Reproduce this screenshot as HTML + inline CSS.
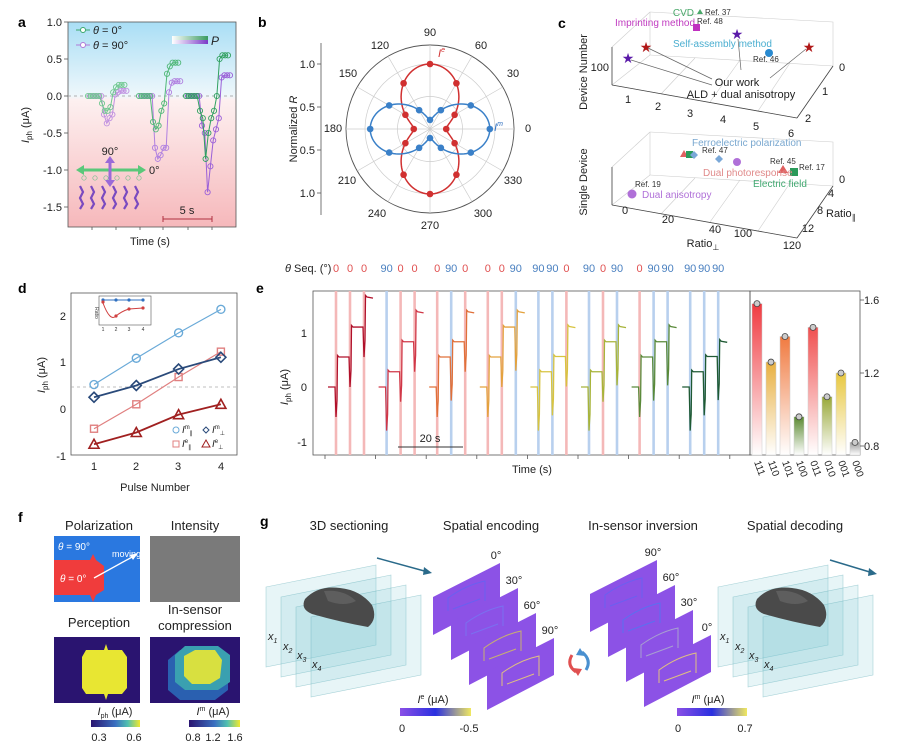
<!DOCTYPE html>
<html><head><meta charset="utf-8">
<style>
html,body{margin:0;padding:0;background:#fff;}
svg{display:block;font-family:"Liberation Sans",Arial,sans-serif;}
.t{font-size:11px;fill:#222}
.s{font-size:8px;fill:#333}
.L{font-size:14px;font-weight:bold;fill:#000}
.h{font-size:13px;fill:#222}
</style></head><body>
<svg id="S" width="899" height="756" viewBox="0 0 899 756" xmlns="http://www.w3.org/2000/svg">
<defs>
<linearGradient id="ga" x1="0" y1="0" x2="0" y2="1">
<stop offset="0" stop-color="#a9def5"/><stop offset="0.36" stop-color="#eef7fb"/><stop offset="0.38" stop-color="#fdf0f0"/><stop offset="1" stop-color="#f6b8bb"/>
</linearGradient>
<linearGradient id="gp" x1="0" y1="0" x2="1" y2="0"><stop offset="0" stop-color="#fff"/><stop offset="1" stop-color="#3a9a60"/></linearGradient>
<linearGradient id="gp2" x1="0" y1="0" x2="1" y2="0"><stop offset="0" stop-color="#fff"/><stop offset="1" stop-color="#7a3ac8"/></linearGradient>
<linearGradient id="cb1" x1="0" y1="0" x2="1" y2="0"><stop offset="0" stop-color="#2a1470"/><stop offset="0.5" stop-color="#3a70c0"/><stop offset="0.75" stop-color="#50c0b0"/><stop offset="1" stop-color="#f0e830"/></linearGradient>
<linearGradient id="cb2" x1="0" y1="0" x2="1" y2="0"><stop offset="0" stop-color="#8a4fe6"/><stop offset="0.5" stop-color="#2a30e0"/><stop offset="1" stop-color="#f0e860"/></linearGradient>
</defs>

<!-- ============ panel a ============ -->
<text class="L" x="18" y="27">a</text>
<rect x="68" y="22" width="168" height="205" fill="url(#ga)" stroke="#555" stroke-width="0.8"/>
<line x1="68" y1="96" x2="236" y2="96" stroke="#999" stroke-dasharray="3,3" stroke-width="0.8"/>
<g class="t" text-anchor="end">
<text x="62" y="26">1.0</text><text x="62" y="63">0.5</text><text x="62" y="100">0.0</text>
<text x="62" y="137">-0.5</text><text x="62" y="174">-1.0</text><text x="62" y="211">-1.5</text>
</g>
<g stroke="#555" stroke-width="0.8">
<line x1="64" y1="22" x2="68" y2="22"/><line x1="64" y1="59" x2="68" y2="59"/><line x1="64" y1="96" x2="68" y2="96"/><line x1="64" y1="133" x2="68" y2="133"/><line x1="64" y1="170" x2="68" y2="170"/><line x1="64" y1="207" x2="68" y2="207"/>
<line x1="92" y1="227" x2="92" y2="230"/><line x1="116" y1="227" x2="116" y2="230"/><line x1="140" y1="227" x2="140" y2="230"/><line x1="163" y1="227" x2="163" y2="230"/><line x1="188" y1="227" x2="188" y2="230"/><line x1="212" y1="227" x2="212" y2="230"/>
</g>
<text class="t" x="150" y="245" text-anchor="middle" font-size="12">Time (s)</text>
<text class="t" transform="translate(29,125) rotate(-90)" text-anchor="middle" font-size="12"><tspan font-style="italic">I</tspan><tspan font-size="8" dy="3">ph</tspan><tspan dy="-3"> (μA)</tspan></text>
<g id="aData"></g>
<line x1="76" y1="30" x2="90" y2="30" stroke="#3aa86a"/><circle cx="83" cy="30" r="2.5" fill="#fff" stroke="#3aa86a"/>
<text class="t" x="93" y="34" font-size="10"><tspan font-style="italic">θ</tspan> = 0°</text>
<line x1="76" y1="45" x2="90" y2="45" stroke="#b07ad8"/><circle cx="83" cy="45" r="2.5" fill="#fff" stroke="#b07ad8"/>
<text class="t" x="93" y="49" font-size="10"><tspan font-style="italic">θ</tspan> = 90°</text>
<rect x="172" y="36" width="36" height="4" fill="url(#gp)"/><rect x="172" y="40" width="36" height="4" fill="url(#gp2)"/>
<text x="211" y="45" font-size="12" font-style="italic" fill="#222">P</text>
<line x1="80" y1="170" x2="142" y2="170" stroke="#5ac87a" stroke-width="3"/>
<polygon points="76,170 84,165 84,175" fill="#5ac87a"/><polygon points="146,170 138,165 138,175" fill="#5ac87a"/>
<line x1="110" y1="160" x2="110" y2="183" stroke="#9a6ad8" stroke-width="3"/>
<polygon points="110,156 105,163 115,163" fill="#9a6ad8"/><polygon points="110,187 105,180 115,180" fill="#9a6ad8"/>
<text class="t" x="110" y="155" text-anchor="middle" font-size="10">90°</text>
<text class="t" x="149" y="174" font-size="10">0°</text>
<g stroke="#7a4ac0" stroke-width="2.2" id="mol"></g>
<line x1="163" y1="219" x2="212" y2="219" stroke="#b03040"/>
<line x1="163" y1="216" x2="163" y2="222" stroke="#b03040"/><line x1="212" y1="216" x2="212" y2="222" stroke="#b03040"/>
<text class="t" x="187" y="214" text-anchor="middle" font-size="10">5 s</text>

<!-- ============ panel b ============ -->
<text class="L" x="258" y="27">b</text>
<line x1="321" y1="43" x2="321" y2="215" stroke="#555" stroke-width="0.8"/>
<g stroke="#555" stroke-width="0.8"><line x1="317" y1="64" x2="321" y2="64"/><line x1="317" y1="107" x2="321" y2="107"/><line x1="317" y1="150" x2="321" y2="150"/><line x1="317" y1="193" x2="321" y2="193"/></g>
<g class="t" text-anchor="end"><text x="315" y="68">1.0</text><text x="315" y="111">0.5</text><text x="315" y="154">0.5</text><text x="315" y="197">1.0</text></g>
<text class="t" transform="translate(297,129) rotate(-90)" text-anchor="middle" font-size="12">Normalized <tspan font-style="italic">R</tspan></text>
<g id="polar"></g>
<g class="t" text-anchor="middle" font-size="11">
<text x="430" y="36">90</text><text x="380" y="49">120</text><text x="348" y="77">150</text><text x="333" y="132">180</text>
<text x="347" y="184">210</text><text x="377" y="217">240</text><text x="430" y="229">270</text>
<text x="481" y="49">60</text><text x="513" y="77">30</text><text x="528" y="132">0</text>
<text x="513" y="184">330</text><text x="483" y="217">300</text>
</g>
<text x="438" y="57" font-size="11" font-style="italic" fill="#d03030">I<tspan font-size="7" dy="-5">e</tspan></text>
<text x="494" y="131" font-size="11" font-style="italic" fill="#3070c0">I<tspan font-size="7" dy="-5">m</tspan></text>

<!-- ============ panel c ============ -->
<text class="L" x="558" y="28">c</text>
<g stroke="#ccc" stroke-width="0.6" fill="none">
<polyline points="612,47 612,85 797,118 833,66 833,22 650,12"/>
<line x1="612" y1="47" x2="650" y2="12"/><line x1="650" y1="12" x2="650" y2="55"/><line x1="650" y1="55" x2="833" y2="66"/>
<line x1="612" y1="85" x2="650" y2="55"/>
<line x1="661" y1="94" x2="695" y2="58"/><line x1="710" y1="102" x2="740" y2="60"/><line x1="758" y1="111" x2="790" y2="63"/>
<polyline points="612,167 612,205 797,238 833,186 833,142 650,132"/>
<line x1="612" y1="167" x2="650" y2="132"/><line x1="650" y1="132" x2="650" y2="175"/><line x1="650" y1="175" x2="833" y2="186"/>
<line x1="612" y1="205" x2="650" y2="175"/>
<line x1="661" y1="214" x2="695" y2="178"/><line x1="710" y1="222" x2="740" y2="180"/><line x1="758" y1="231" x2="790" y2="183"/>
</g>
<g stroke="#444" stroke-width="0.8"><line x1="612" y1="85" x2="797" y2="118"/><line x1="797" y1="118" x2="833" y2="66"/><line x1="612" y1="205" x2="797" y2="238"/><line x1="797" y1="238" x2="833" y2="186"/><line x1="612" y1="47" x2="612" y2="85"/><line x1="612" y1="167" x2="612" y2="205"/></g>
<text class="t" transform="translate(587,72) rotate(-90)" text-anchor="middle" font-size="12">Device Number</text>
<text class="t" transform="translate(587,182) rotate(-90)" text-anchor="middle" font-size="12">Single Device</text>
<text class="t" x="609" y="71" text-anchor="end" font-size="10">100</text>
<text x="694" y="16" font-size="10" fill="#4aa86a" text-anchor="end">CVD</text><polygon points="697,14 700,9 703,14" fill="#4aa86a"/>
<text class="s" x="705" y="15">Ref. 37</text>
<text x="615" y="26" font-size="10" fill="#c03ac0">Imprinting method</text><text class="s" x="697" y="24">Ref. 48</text>
<rect x="693" y="24" width="7" height="7" fill="#c030c0"/>
<text x="673" y="47" font-size="10" fill="#4aaed0">Self-assembly method</text>
<circle cx="769" cy="53" r="4" fill="#2a8ad0"/><text class="s" x="753" y="62">Ref. 46</text>
<g font-size="14" text-anchor="middle"><text x="646" y="52" fill="#b01818">★</text><text x="628" y="63" fill="#5a1aa8">★</text><text x="737" y="39" fill="#5a1aa8">★</text><text x="809" y="52" fill="#b01818">★</text></g>
<g stroke="#666" stroke-width="0.7"><line x1="648" y1="48" x2="712" y2="79"/><line x1="631" y1="60" x2="712" y2="85"/><line x1="738" y1="39" x2="741" y2="70"/><line x1="806" y1="49" x2="770" y2="78"/></g>
<text class="t" x="737" y="86" text-anchor="middle" font-size="10">Our work</text>
<text class="t" x="741" y="98" text-anchor="middle" font-size="10">ALD + dual anisotropy</text>
<g class="t" font-size="10" text-anchor="middle"><text x="628" y="103">1</text><text x="658" y="110">2</text><text x="690" y="117">3</text><text x="723" y="123">4</text><text x="756" y="130">5</text><text x="791" y="137">6</text>
<text x="842" y="71">0</text><text x="825" y="95">1</text><text x="808" y="122">2</text></g>
<text x="692" y="146" font-size="10" fill="#7aa8d0">Ferroelectric polarization</text>
<polygon points="684,150 688,157 680,157" fill="#e06060"/><rect x="686" y="151" width="7" height="7" fill="#2a9a5a"/>
<polygon points="694,151 698,155 694,159 690,155" fill="#7aa8d8"/><text class="s" x="702" y="153">Ref. 47</text>
<polygon points="719,155 723,159 719,163 715,159" fill="#7aa8d8"/><circle cx="737" cy="162" r="4" fill="#b070d8"/>
<text class="s" x="770" y="164">Ref. 45</text><polygon points="783,165 788,173 778,173" fill="#e06060"/><rect x="790" y="168" width="8" height="8" fill="#2a9a5a"/><text class="s" x="799" y="170">Ref. 17</text>
<text x="703" y="176" font-size="10" fill="#e08a8a">Dual photoresponse</text>
<text x="753" y="187" font-size="10" fill="#40a870">Electric field</text>
<text class="s" x="635" y="187">Ref. 19</text><circle cx="632" cy="194" r="4.5" fill="#b070d8"/>
<text x="642" y="198" font-size="10" fill="#b070d8">Dual anisotropy</text>
<g class="t" font-size="10" text-anchor="middle"><text x="625" y="214">0</text><text x="668" y="223">20</text><text x="715" y="233">40</text><text x="743" y="237">100</text><text x="792" y="249">120</text>
<text x="842" y="183">0</text><text x="831" y="197">4</text><text x="820" y="214">8</text><text x="808" y="232">12</text></g>
<text class="t" x="703" y="247" font-size="12" text-anchor="middle">Ratio<tspan font-size="8" dy="3">⊥</tspan></text>
<text class="t" x="826" y="217" font-size="12">Ratio<tspan font-size="8" dy="3">∥</tspan></text>

<!-- ============ panel d ============ -->
<text class="L" x="18" y="293">d</text>
<rect x="71" y="293" width="166" height="162" fill="none" stroke="#555" stroke-width="0.8"/>
<line x1="71" y1="387" x2="237" y2="387" stroke="#aaa" stroke-dasharray="3,3" stroke-width="0.8"/>
<g class="t" text-anchor="end"><text x="66" y="320">2</text><text x="66" y="366">1</text><text x="66" y="413">0</text><text x="66" y="460">-1</text></g>
<g class="t" text-anchor="middle"><text x="94" y="470">1</text><text x="136" y="470">2</text><text x="178" y="470">3</text><text x="221" y="470">4</text></g>
<text class="t" x="155" y="491" text-anchor="middle" font-size="12">Pulse Number</text>
<text class="t" transform="translate(45,375) rotate(-90)" text-anchor="middle" font-size="12"><tspan font-style="italic">I</tspan><tspan font-size="8" dy="3">ph</tspan><tspan dy="-3"> (μA)</tspan></text>
<g id="dData"></g>
<rect x="99" y="296" width="52" height="29" fill="#fff" stroke="#555" stroke-width="0.6"/>
<polyline points="103,300 116,300 129,300 143,300" fill="none" stroke="#3070c0"/>
<g fill="#3070c0"><circle cx="103" cy="300" r="1.6"/><circle cx="116" cy="300" r="1.6"/><circle cx="129" cy="300" r="1.6"/><circle cx="143" cy="300" r="1.6"/></g>
<path d="M103,303 Q110,322 116,316 Q122,311 129,309 L143,308" fill="none" stroke="#d04040"/>
<g fill="#d04040"><circle cx="103" cy="302" r="1.6"/><circle cx="116" cy="316" r="1.6"/><circle cx="129" cy="309" r="1.6"/><circle cx="143" cy="308" r="1.6"/></g>
<text x="95" y="313" font-size="5" transform="rotate(90,95,313)" text-anchor="middle" fill="#333">Ratio</text>
<g font-size="5" fill="#333" text-anchor="middle"><text x="103" y="331">1</text><text x="116" y="331">2</text><text x="129" y="331">3</text><text x="143" y="331">4</text></g>
<g font-size="10" fill="#222">
<circle cx="176" cy="430" r="3" fill="none" stroke="#6aaad8"/><text x="182" y="433"><tspan font-style="italic">I</tspan><tspan font-size="6" dy="-4">m</tspan><tspan font-size="6" dy="6">∥</tspan></text>
<polygon points="206,427 209,430 206,433 203,430" fill="none" stroke="#2a4a7a"/><text x="212" y="433"><tspan font-style="italic">I</tspan><tspan font-size="6" dy="-4">m</tspan><tspan font-size="6" dy="6">⊥</tspan></text>
<rect x="173" y="441" width="6" height="6" fill="none" stroke="#e08080"/><text x="182" y="447"><tspan font-style="italic">I</tspan><tspan font-size="6" dy="-4">e</tspan><tspan font-size="6" dy="6">∥</tspan></text>
<polygon points="206,440 210,447 202,447" fill="none" stroke="#a02020"/><text x="212" y="447"><tspan font-style="italic">I</tspan><tspan font-size="6" dy="-4">e</tspan><tspan font-size="6" dy="6">⊥</tspan></text>
</g>

<!-- ============ panel e ============ -->
<text class="L" x="256" y="293">e</text>
<text class="t" x="285" y="272" font-size="11"><tspan font-style="italic">θ</tspan> Seq. (°)</text>
<rect x="313" y="291" width="437" height="164" fill="none" stroke="#555" stroke-width="0.8"/>
<rect x="750" y="291" width="110" height="164" fill="none" stroke="#555" stroke-width="0.8"/>
<g id="eData"></g>
<g class="t" text-anchor="end"><text x="307" y="337">1</text><text x="307" y="391">0</text><text x="307" y="446">-1</text></g>
<g class="t"><text x="864" y="304">1.6</text><text x="864" y="377">1.2</text><text x="864" y="450">0.8</text></g>
<g stroke="#555" stroke-width="0.8"><line x1="860" y1="300" x2="864" y2="300"/><line x1="860" y1="373" x2="864" y2="373"/><line x1="860" y1="446" x2="864" y2="446"/></g>
<text class="t" transform="translate(288,387) rotate(-90)" text-anchor="middle" font-size="12"><tspan font-style="italic">I</tspan><tspan font-size="8" dy="3">ph</tspan><tspan dy="-3"> (μA)</tspan></text>
<line x1="398" y1="447" x2="463" y2="447" stroke="#333"/>
<text class="t" x="430" y="442" text-anchor="middle" font-size="10">20 s</text>
<text class="t" x="532" y="473" text-anchor="middle" font-size="12">Time (s)</text>

<!-- ============ panel f ============ -->
<text class="L" x="18" y="522">f</text>
<g class="h" text-anchor="middle"><text x="99" y="530">Polarization</text><text x="195" y="530">Intensity</text><text x="99" y="627">Perception</text><text x="195" y="614">In-sensor</text><text x="195" y="630">compression</text></g>
<rect x="54" y="536" width="86" height="66" fill="#2a78e0"/>
<path d="M54,560 L90,560 L93,554 L96,560 L104,566 L104,590 L96,595 L93,602 L90,595 L54,595 Z" fill="#f03c3c"/>
<text x="58" y="550" font-size="10" fill="#fff"><tspan font-style="italic">θ</tspan> = 90°</text>
<text x="112" y="557" font-size="9" fill="#fff">moving</text>
<text x="60" y="582" font-size="10" fill="#fff"><tspan font-style="italic">θ</tspan> = 0°</text>
<line x1="94" y1="578" x2="134" y2="556" stroke="#fff" stroke-width="1.3"/><polygon points="138,553 130,555 133,560" fill="#fff"/>
<rect x="150" y="536" width="90" height="66" fill="#7a7a7a"/>
<rect x="54" y="637" width="86" height="66" fill="#2a1470"/>
<path d="M86,650 L104,650 L106,644 L108,650 L122,650 L127,657 L127,688 L122,694 L108,694 L106,700 L104,694 L86,694 L82,688 L82,657 Z" fill="#e8e632"/>
<rect x="150" y="637" width="90" height="66" fill="#2a1470"/>
<path d="M168,660 L180,650 L215,650 L228,660 L228,690 L215,700 L180,700 L168,690 Z" fill="#2a60b0"/>
<path d="M175,655 L185,646 L218,646 L230,655 L230,682 L218,690 L185,690 L175,682 Z" fill="#3aa0b0"/>
<path d="M184,656 L195,650 L215,650 L222,660 L220,678 L210,684 L192,684 L184,676 Z" fill="#d8e040"/>
<rect x="91" y="720" width="49" height="7" fill="url(#cb1)"/><rect x="189" y="720" width="51" height="7" fill="url(#cb1)"/>
<text class="t" x="115" y="715" text-anchor="middle" font-size="10"><tspan font-style="italic">I</tspan><tspan font-size="7" dy="3">ph</tspan><tspan dy="-3"> (μA)</tspan></text>
<text class="t" x="213" y="715" text-anchor="middle" font-size="10"><tspan font-style="italic">I</tspan><tspan font-size="7" dy="-4">m</tspan><tspan dy="4"> (μA)</tspan></text>
<g class="t" font-size="9" text-anchor="middle"><text x="99" y="741">0.3</text><text x="134" y="741">0.6</text><text x="193" y="741">0.8</text><text x="213" y="741">1.2</text><text x="235" y="741">1.6</text></g>

<!-- ============ panel g ============ -->
<text class="L" x="260" y="526">g</text>
<g class="h" text-anchor="middle"><text x="349" y="530">3D sectioning</text><text x="491" y="530">Spatial encoding</text><text x="643" y="530">In-sensor inversion</text><text x="795" y="530">Spatial decoding</text></g>
<g id="gData"></g>
<g class="t" font-size="11" font-style="italic">
<text x="268" y="640">x<tspan font-size="7" dy="3">1</tspan></text><text x="283" y="650">x<tspan font-size="7" dy="3">2</tspan></text><text x="297" y="659">x<tspan font-size="7" dy="3">3</tspan></text><text x="312" y="668">x<tspan font-size="7" dy="3">4</tspan></text>
<text x="720" y="640">x<tspan font-size="7" dy="3">1</tspan></text><text x="735" y="650">x<tspan font-size="7" dy="3">2</tspan></text><text x="749" y="659">x<tspan font-size="7" dy="3">3</tspan></text><text x="764" y="668">x<tspan font-size="7" dy="3">4</tspan></text>
</g>
<rect x="400" y="708" width="71" height="8" fill="url(#cb2)"/><rect x="677" y="708" width="70" height="8" fill="url(#cb2)"/>
<text class="t" x="433" y="703" text-anchor="middle" font-size="10"><tspan font-style="italic">I</tspan><tspan font-size="7" dy="-4">e</tspan><tspan dy="4"> (μA)</tspan></text>
<text class="t" x="708" y="703" text-anchor="middle" font-size="10"><tspan font-style="italic">I</tspan><tspan font-size="7" dy="-4">m</tspan><tspan dy="4"> (μA)</tspan></text>
<g class="t" font-size="9" text-anchor="middle"><text x="402" y="732">0</text><text x="469" y="732">-0.5</text><text x="678" y="732">0</text><text x="745" y="732">0.7</text></g>
<path d="M572,655 Q566,665 576,672" fill="none" stroke="#e05050" stroke-width="3"/><polygon points="578,676 573,668 582,669" fill="#e05050"/>
<path d="M586,670 Q592,660 582,652" fill="none" stroke="#4a90d0" stroke-width="3"/><polygon points="580,648 585,656 576,655" fill="#4a90d0"/>
</svg>
<script>
const NS="http://www.w3.org/2000/svg";
function el(p,t,a){const e=document.createElementNS(NS,t);for(const k in a)e.setAttribute(k,a[k]);p.appendChild(e);return e;}
const A=document.getElementById('aData');
const ya=v=>96-74*v;
function ser(x0,arr,c){let pts=arr.map((v,i)=>[x0+i*2.8,ya(v)]);el(A,'polyline',{points:pts.map(p=>p.join(',')).join(' '),fill:'none',stroke:c,'stroke-width':1});pts.forEach(p=>el(A,'circle',{cx:p[0],cy:p[1],r:2.6,fill:'none',stroke:c,'stroke-width':0.9}));}
ser(90,[0,0,0,0,0,-0.25,-0.37,-0.3,-0.25,0.02,0.05,0.07,0.07,0.07],'#c090e0');
ser(88,[0,0,0,0,0,-0.1,-0.2,-0.2,-0.15,0.05,0.12,0.15,0.15,0.15],'#70c890');
ser(141,[0,0,0,0,0,-0.7,-0.85,-0.8,-0.7,-0.7,0.05,0.18,0.2,0.2,0.2],'#b080e0');
ser(139,[0,0,0,0,0,-0.35,-0.45,-0.4,-0.2,-0.1,0.3,0.4,0.45,0.45,0.45],'#50b878');
ser(188,[0,0,0,0,0,-0.4,-0.5,-1.3,-0.95,-0.6,-0.45,-0.3,0.25,0.28,0.28,0.28],'#9a60d8');
ser(186,[0,0,0,0,0,-0.2,-0.3,-0.85,-0.5,-0.3,-0.2,0.0,0.5,0.55,0.55,0.55],'#30a060');
const M=document.getElementById('mol');
for(let i=0;i<6;i++){const x=80+i*11;el(M,'polyline',{points:`${x},186 ${x+3},192 ${x},198 ${x+3},204 ${x},209`,fill:'none'});
el(A,'circle',{cx:x+4,cy:178,r:2.2,fill:'none',stroke:'#7ac090','stroke-width':0.7});}
const P=document.getElementById('polar');const cx=430,cy=129,s=65;
[0.5,1.0].forEach(r=>el(P,'circle',{cx,cy,r:r*s,fill:'none',stroke:'#ccc','stroke-width':0.7}));
el(P,'circle',{cx,cy,r:84,fill:'none',stroke:'#555','stroke-width':0.9});
for(let a=0;a<180;a+=30){const r=a*Math.PI/180;el(P,'line',{x1:cx-84*Math.cos(r),y1:cy+84*Math.sin(r),x2:cx+84*Math.cos(r),y2:cy-84*Math.sin(r),stroke:'#ccc','stroke-width':0.7});}
function curve(f,c,dots){let d='';for(let i=0;i<=360;i+=2){const t=i*Math.PI/180,r=f(t)*s;d+=(i?'L':'M')+(cx+r*Math.cos(t)).toFixed(1)+','+(cy-r*Math.sin(t)).toFixed(1);}
el(P,'path',{d:d+'Z',fill:'none',stroke:c,'stroke-width':1.5});
dots.forEach(i=>{const t=i*Math.PI/180,r=f(t)*s;el(P,'circle',{cx:cx+r*Math.cos(t),cy:cy-r*Math.sin(t),r:3.3,fill:c});});}
const ang=[0,30,60,90,120,150,180,210,240,270,300,330];
curve(t=>0.25+0.75*Math.pow(Math.sin(t),2),'#d03030',ang);
curve(t=>0.14+0.78*Math.pow(Math.cos(t),2),'#3a80c8',ang);
const D=document.getElementById('dData');const xd=n=>94+42.3*(n-1),yd=v=>409-47*v;
function ds(vals,c,m,w){const pts=vals.map((v,i)=>[xd(i+1),yd(v)]);el(D,'polyline',{points:pts.map(p=>p.join(',')).join(' '),fill:'none',stroke:c,'stroke-width':w});
pts.forEach(([x,y])=>{if(m=='o')el(D,'circle',{cx:x,cy:y,r:4,fill:'none',stroke:c,'stroke-width':1.4});
if(m=='s')el(D,'rect',{x:x-3.5,y:y-3.5,width:7,height:7,fill:'none',stroke:c,'stroke-width':1.4});
if(m=='d')el(D,'polygon',{points:`${x},${y-5} ${x+5},${y} ${x},${y+5} ${x-5},${y}`,fill:'none',stroke:c,'stroke-width':1.6});
if(m=='t')el(D,'polygon',{points:`${x},${y-5} ${x+5},${y+4} ${x-5},${y+4}`,fill:'none',stroke:c,'stroke-width':1.6});});}
ds([0.52,1.08,1.62,2.12],'#6aaad8','o',1.2);
ds([-0.42,0.1,0.68,1.22],'#e08080','s',1.2);
ds([0.25,0.5,0.85,1.1],'#2a4a7a','d',1.8);
ds([-0.75,-0.5,-0.12,0.1],'#a02020','t',1.8);
const E=document.getElementById('eData');const ye=v=>387-54.5*v;
const seqs=[[0,0,0],[90,0,0],[0,90,0],[0,0,90],[90,90,0],[90,0,90],[0,90,90],[90,90,90]];
const cols=['#b0102a','#d03848','#e0703a','#e3a23e','#d8c440','#a8b43a','#5a8a3a','#1f5a34'];
seqs.forEach((sq,g)=>{const st=[336,350,364].map(v=>v+50.6*g);
sq.forEach((a,k)=>{el(E,'rect',{x:st[k]-1.3,y:291,width:2.6,height:164,fill:a?'#b8d0ee':'#f4b8b8'});
const t=el(E,'text',{x:st[k],y:272,'font-size':11,'text-anchor':'middle',fill:a?'#4a80c0':'#e05050'});t.textContent=a;});
let lv=0,d=`M${st[0]-8},${ye(0)}`;
sq.forEach((a,k)=>{const x=st[k];const dip=lv-(a?0.8:0.55);const nl=lv+(a?0.28:0.55);
d+=` L${x-1},${ye(lv)} L${x},${ye(dip)} L${x+1},${ye(dip+0.3)} L${x+1.5},${ye(nl+0.03)} L${x+3},${ye(nl)}`;lv=nl;});
d+=` L${st[2]+9},${ye(lv-0.02)}`;el(E,'path',{d,fill:'none',stroke:cols[g],'stroke-width':1.3});});
for(let x=325;x<750;x+=50.6)el(E,'line',{x1:x,y1:455,x2:x,y2:459,stroke:'#555','stroke-width':0.8});
const yb=v=>446-182.5*(v-0.8);
const bv=[1.58,1.26,1.40,0.96,1.45,1.07,1.20,0.82],bl=['111','110','101','100','011','010','001','000'];
const bc=['#f03a40','#e8b040','#f07a40','#5a8a30','#f05050','#98a838','#e8c840','#9a9a9a'];
const defs=document.querySelector('defs');
bv.forEach((v,i)=>{const x=757+14*i;const id='bg'+i;const lg=el(defs,'linearGradient',{id,x1:0,y1:0,x2:0,y2:1});
el(lg,'stop',{offset:0,'stop-color':bc[i]});el(lg,'stop',{offset:1,'stop-color':'#fff'});
el(E,'rect',{x:x-5,y:yb(v),width:10,height:455-yb(v),fill:`url(#${id})`,stroke:'#ccc','stroke-width':0.5});
el(E,'circle',{cx:x,cy:yb(v),r:3,fill:'#ccc',stroke:'#444','stroke-width':0.8});
const t=el(E,'text',{x:x-3,y:462,'font-size':10,fill:'#222',transform:`rotate(70,${x-3},462)`});t.textContent=bl[i];});
const G=document.getElementById('gData');
function planes(x0,y0){for(let i=0;i<4;i++){const x=x0+i*15,y=y0+i*10;
el(G,'polygon',{points:`${x},${y+22} ${x+110},${y} ${x+110},${y+80} ${x},${y+102}`,fill:'rgba(120,200,210,0.18)',stroke:'rgba(90,170,180,0.5)','stroke-width':0.6});}}
function car(cx,cy){el(G,'path',{d:`M${cx-35},${cy-6} Q${cx-22},${cy-20} ${cx},${cy-17} Q${cx+20},${cy-15} ${cx+32},${cy} Q${cx+38},${cy+14} ${cx+28},${cy+22} Q${cx},${cy+17} ${cx-28},${cy+9} Q${cx-40},${cy+4} ${cx-35},${cy-6}Z`,fill:'#4a4a4a'});
el(G,'path',{d:`M${cx-16},${cy-14} Q${cx+4},${cy-16} ${cx+16},${cy-4} Q${cx+4},${cy+2} ${cx-12},${cy-4}Z`,fill:'#5e5e5e'});}
planes(266,565);car(340,605);
el(G,'line',{x1:377,y1:558,x2:428,y2:572,stroke:'#2a6a8a','stroke-width':1.5});el(G,'polygon',{points:'432,573 424,567 423,575',fill:'#2a6a8a'});
planes(718,565);car(792,605);
el(G,'line',{x1:830,y1:560,x2:873,y2:573,stroke:'#2a6a8a','stroke-width':1.5});el(G,'polygon',{points:'877,574 869,568 868,576',fill:'#2a6a8a'});
function purp(x0,y0,labs,edge){for(let i=0;i<4;i++){const x=x0+i*18,y=y0+i*25;
el(G,'polygon',{points:`${x},${y+34} ${x+67},${y} ${x+67},${y+37} ${x},${y+72}`,fill:'#8c52e6'});
el(G,'path',{d:`M${x+15},${y+48} L${x+15},${y+35} Q${x+33},${y+22} ${x+52},${y+18} L${x+52},${y+38} M${x+20},${y+46} L${x+47},${y+36}`,fill:'none',stroke:edge[i],'stroke-width':1});
const t=el(G,'text',{x:x+63,y:y-4,'font-size':11,'text-anchor':'middle',fill:'#222'});t.textContent=labs[i]+'°';}}
purp(433,563,[0,30,60,90],['#6a60f0','#7a70f0','#c8b070','#e0c080']);
purp(590,560,[90,60,30,0],['#6a60f0','#5a70f0','#a8a0d0','#e0c080']);
</script>
</body></html>
